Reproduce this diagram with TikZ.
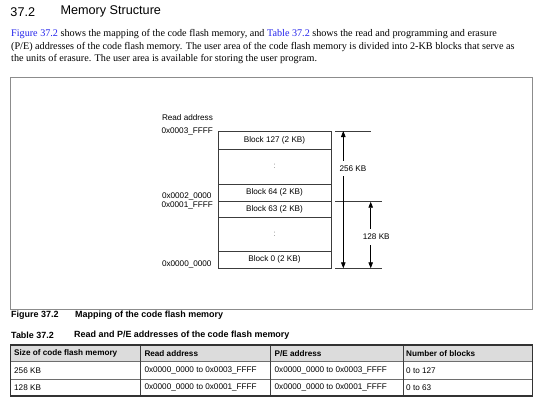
\documentclass[tikz,border=0pt]{standalone}
\usepackage{fontspec}
\setmainfont{Liberation Serif}
\setsansfont{Liberation Sans}
\usetikzlibrary{arrows.meta}
\definecolor{linkblue}{RGB}{35,35,235}
\definecolor{framegray}{RGB}{140,140,140}
\definecolor{headgray}{RGB}{220,220,220}
\definecolor{gridgray}{RGB}{110,110,110}
\definecolor{boxline}{RGB}{60,60,60}
\begin{document}
\begin{tikzpicture}[x=1bp,y=-1bp,
  titlef/.style={font=\sffamily\fontsize{12.7}{14}\selectfont, inner sep=0pt, anchor=west},
  parafont/.style={font=\rmfamily\fontsize{10.2}{12.7}\selectfont, inner sep=0pt, anchor=base west},
  lbl/.style={font=\sffamily\fontsize{8.2}{9}\selectfont, inner sep=0pt},
  blk/.style={draw=boxline, line width=0.8bp, minimum width=113bp, inner sep=0pt,
    font=\sffamily\fontsize{8.2}{9}\selectfont},
  dimline/.style={draw=boxline, line width=0.8bp},
  dimarrow/.style={draw=black, line width=0.8bp,
    {Triangle[length=6bp,width=4.5bp]}-{Triangle[length=6bp,width=4.5bp]}},
  dimlabel/.style={lbl, fill=white, inner xsep=1bp, inner ysep=5bp},
  capf/.style={font=\sffamily\bfseries\fontsize{9}{10}\selectfont, inner sep=0pt, anchor=west},
  cellf/.style={font=\sffamily\fontsize{8.2}{9}\selectfont, inner sep=0pt, anchor=west},
  headf/.style={font=\sffamily\bfseries\fontsize{8.2}{9}\selectfont, inner sep=0pt, anchor=west}
]
\useasboundingbox (0,0) rectangle (541,407);

% heading
\node[titlef] (secnum) at (10.3,11.7) {37.2};
\node[titlef] (sectitle) at (60.3,11.7) {Memory Structure};

% paragraph
\node[parafont] (p1) at (11,36.6) {\textcolor{linkblue}{Figure 37.2} shows the mapping of the code flash memory, and \textcolor{linkblue}{Table 37.2} shows the read and programming and erasure};
\node[parafont] (p2) at (11,49.3) {(P/E) addresses of the code flash memory. The user area of the code flash memory is divided into 2-KB blocks that serve as};
\node[parafont] (p3) at (11,61.9) {the units of erasure. The user area is available for storing the user program.};

% figure frame
\draw[framegray, line width=1.2bp] (10.3,77.3) rectangle (532.5,309.3);

% address labels
\node[lbl, anchor=west] (readaddr) at (161.8,117.7) {Read address};
\node[lbl, anchor=west] (a3ffff) at (161.3,131.3) {0x0003\_FFFF};
\node[lbl, anchor=west] (a20000) at (161.8,196.7) {0x0002\_0000};
\node[lbl, anchor=west] (a1ffff) at (161.3,205.9) {0x0001\_FFFF};
\node[lbl, anchor=west] (a00000) at (161.8,264.7) {0x0000\_0000};

% memory blocks
\node[blk, minimum height=18.5bp] (b127) at (274.5,140.25) {Block 127 (2 KB)};
\node[blk, minimum height=34.5bp, text=gray] (d1) at (274.5,166.75) {:};
\node[blk, minimum height=17.7bp] (b64) at (274.5,192.85) {Block 64 (2 KB)};
\node[blk, minimum height=15.3bp] (b63) at (274.5,209.35) {Block 63 (2 KB)};
\node[blk, minimum height=34bp, text=gray] (d2) at (274.5,234) {:};
\node[blk, minimum height=17.3bp] (b0) at (274.5,259.65) {Block 0 (2 KB)};

% dimension lines
\coordinate (t1) at (335,131);
\coordinate (t2) at (370.5,131);
\coordinate (m1) at (335,201.7);
\coordinate (m2) at (382,201.7);
\coordinate (u1) at (335,268.3);
\coordinate (u2) at (382,268.3);
\draw[dimline] (t1) -- (t2);
\draw[dimline] (m1) -- (m2);
\draw[dimline] (u1) -- (u2);

\coordinate (k256t) at (343.3,131);
\coordinate (k256b) at (343.3,268.3);
\coordinate (k128t) at (370.7,201.7);
\coordinate (k128b) at (370.7,268.3);
\draw[dimarrow] (k256t) -- (k256b);
\draw[dimarrow] (k128t) -- (k128b);
\node[dimlabel] (l256) at (353,168.5) {256 KB};
\node[dimlabel] (l128) at (376.3,237) {128 KB};

% captions
\node[capf] (figcap) at (11,315.3) {Figure 37.2};
\node[capf] (figcapt) at (75,315.3) {Mapping of the code flash memory};
\node[capf] (tabcap) at (11,335.5) {Table 37.2};
\node[capf] (tabcapt) at (74,335.5) {Read and P/E addresses of the code flash memory};

% table
\fill[headgray] (10.3,345) rectangle (532.7,361.5);
\draw[gridgray, line width=0.8bp] (10.3,361.5) -- (532.7,361.5);
\draw[gridgray, line width=0.8bp] (10.3,379) -- (532.7,379);
\foreach \cx in {140.7,270.7,403.3}
  \draw[black!75, line width=0.8bp] (\cx,345) -- (\cx,396);
\draw[black!80, line width=1.4bp] (10.3,345) rectangle (532.7,396);

\node[headf] (h1) at (14,353.3) {Size of code flash memory};
\node[headf] (h2) at (144.3,353.3) {Read address};
\node[headf] (h3) at (274.5,353.3) {P/E address};
\node[headf] (h4) at (406,353.3) {Number of blocks};

\node[cellf] (r1c1) at (14,370.3) {256 KB};
\node[cellf] (r1c2) at (144.3,370.3) {0x0000\_0000 to 0x0003\_FFFF};
\node[cellf] (r1c3) at (274.5,370.3) {0x0000\_0000 to 0x0003\_FFFF};
\node[cellf] (r1c4) at (406,370.3) {0 to 127};

\node[cellf] (r2c1) at (14,387.6) {128 KB};
\node[cellf] (r2c2) at (144.3,387.6) {0x0000\_0000 to 0x0001\_FFFF};
\node[cellf] (r2c3) at (274.5,387.6) {0x0000\_0000 to 0x0001\_FFFF};
\node[cellf] (r2c4) at (406,387.6) {0 to 63};
\end{tikzpicture}
\end{document}
